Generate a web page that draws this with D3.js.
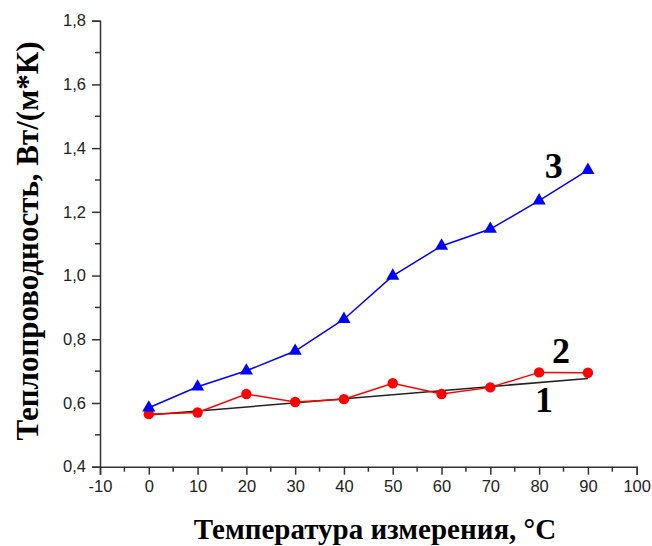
<!DOCTYPE html>
<html><head><meta charset="utf-8">
<script src="https://cdn.jsdelivr.net/npm/d3@7"></script>
<style>body{margin:0;background:#fff}
.serif{font-family:"Liberation Serif","Times New Roman",serif;font-weight:bold}
.sans{font-family:"Liberation Sans",Arial,sans-serif}
</style>
</head><body>
<svg id="c" width="652" height="546"></svg>
<script>
const temps = [0,10,20,30,40,50,60,70,80,90];
const series3 = [0.585,0.651,0.701,0.763,0.863,0.999,1.093,1.146,1.235,1.331];
const series2 = [0.565,0.570,0.628,0.603,0.612,0.662,0.628,0.649,0.696,0.695];
const fitX = [0,90];
const series1 = [0.562,0.677];
const xTicks = [-10,0,10,20,30,40,50,60,70,80,90,100];
const yTicks = [0.4,0.6,0.8,1.0,1.2,1.4,1.6,1.8];
const labels = [{t:"3",x:83,y:1.305},{t:"2",x:84.5,y:0.725},{t:"1",x:81,y:0.573}];
const yTitle = "Теплопроводность, Вт/(м*К)";
const xTitle = "Температура измерения, °С";

const svg = d3.select("#c");
const m = {l:100,r:15.3,t:20.7,b:79.3};
const W = 652, H = 546;
const x = d3.scaleLinear().domain([-10,100]).range([m.l, W-m.r]);
const y = d3.scaleLinear().domain([0.4,1.8]).range([H-m.b, m.t]);
const fmt = d => d3.format(".1f")(d).replace(".",",");
const axCol = "#333";

const gx = svg.append("g").attr("transform",`translate(0,${H-m.b})`);
gx.selectAll("line.mn").data(d3.range(-5,100,10)).join("line")
  .attr("x1",d=>x(d)).attr("x2",d=>x(d)).attr("y1",0).attr("y2",5)
  .attr("stroke",axCol).attr("stroke-width",1.5);
gx.call(d3.axisBottom(x).tickValues(xTicks).tickSize(8).tickPadding(6).tickFormat(d=>String(d)));
gx.select(".domain").attr("stroke",axCol).attr("stroke-width",1.5);
gx.selectAll(".tick line").attr("stroke",axCol).attr("stroke-width",1.5);
gx.selectAll("text").attr("class","sans").attr("font-size",16.5).attr("fill","#222");

const gy = svg.append("g").attr("transform",`translate(${m.l},0)`);
gy.selectAll("line.mn").data(d3.range(0.5,1.8,0.2)).join("line")
  .attr("x1",0).attr("x2",-5).attr("y1",d=>y(d)).attr("y2",d=>y(d))
  .attr("stroke",axCol).attr("stroke-width",1.5);
gy.call(d3.axisLeft(y).tickValues(yTicks).tickSize(8).tickPadding(6).tickFormat(fmt));
gy.select(".domain").attr("stroke",axCol).attr("stroke-width",1.5);
gy.selectAll(".tick line").attr("stroke",axCol).attr("stroke-width",1.5);
gy.selectAll("text").attr("class","sans").attr("font-size",16.5).attr("fill","#222");
svg.selectAll("g").attr("font-family",null);

const line = d3.line().x(d=>x(d[0])).y(d=>y(d[1]));
svg.append("path").datum(fitX.map((t,i)=>[t,series1[i]])).attr("d",line)
  .attr("fill","none").attr("stroke","#222").attr("stroke-width",1.5);
svg.append("path").datum(temps.map((t,i)=>[t,series2[i]])).attr("d",line)
  .attr("fill","none").attr("stroke","#ff0000").attr("stroke-width",1.5);
svg.append("g").selectAll("circle").data(temps.map((t,i)=>[t,series2[i]])).join("circle")
  .attr("cx",d=>x(d[0])).attr("cy",d=>y(d[1])).attr("r",5.2).attr("fill","#ff0000");
svg.append("path").datum(temps.map((t,i)=>[t,series3[i]])).attr("d",line)
  .attr("fill","none").attr("stroke","#0000ff").attr("stroke-width",1.5);
const tri = d3.symbol().type(d3.symbolTriangle).size(75);
svg.append("g").selectAll("path").data(temps.map((t,i)=>[t,series3[i]])).join("path")
  .attr("d",tri).attr("transform",d=>`translate(${x(d[0])},${y(d[1])})`).attr("fill","#0000ff");

svg.append("g").selectAll("text").data(labels).join("text")
  .attr("class","serif")
  .attr("x",d=>x(d.x)).attr("y",d=>y(d.y)).attr("text-anchor","middle")
  .attr("font-size",36).attr("fill","#000").text(d=>d.t);

svg.append("text").attr("class","serif").attr("transform","translate(38,241) rotate(-90)").attr("text-anchor","middle")
  .attr("font-size",31).attr("fill","#000").text(yTitle);
svg.append("text").attr("class","serif").attr("x",375).attr("y",539).attr("text-anchor","middle")
  .attr("font-size",29).attr("fill","#000").text(xTitle);
</script>
</body></html>
